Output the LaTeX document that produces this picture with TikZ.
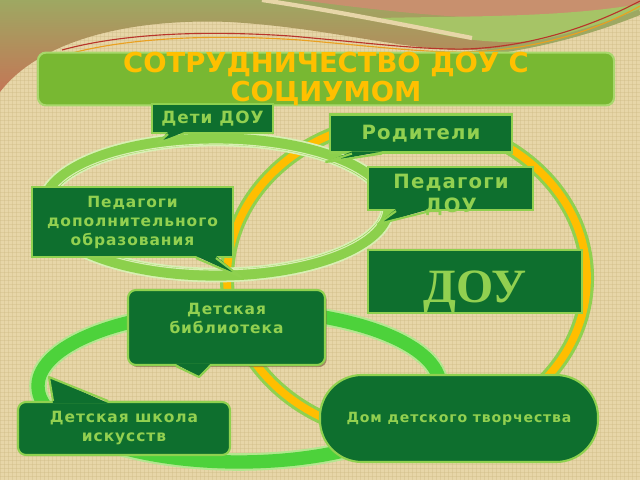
\documentclass[tikz,border=0pt]{standalone}
\usepackage{fontspec}
\setmainfont{DejaVu Sans}
\newfontfamily\boxfont[LetterSpace=6]{DejaVu Sans}
\newfontfamily\doufont{Liberation Serif}
\usetikzlibrary{shadows}

\definecolor{bgBeige}{HTML}{E7D6A8}
\definecolor{bgFibre}{HTML}{CDB882}
\definecolor{topOlive}{HTML}{9EA862}
\definecolor{topRed}{HTML}{C47656}
\definecolor{topRose}{HTML}{C8906E}
\definecolor{topGreen}{HTML}{A6C466}
\definecolor{lineRed}{HTML}{B8342A}
\definecolor{lineOrange}{HTML}{EAA020}
\definecolor{boxGreen}{HTML}{0E6F2E}
\definecolor{boxBorder}{HTML}{8FD14F}
\definecolor{boxText}{HTML}{92D050}
\definecolor{titleGreen}{HTML}{78B832}
\definecolor{titleBorder}{HTML}{A8D86C}
\definecolor{titleYellow}{HTML}{FFC000}
\definecolor{ringOrange}{HTML}{FFBE00}
\definecolor{ringGreen}{HTML}{8FD14F}
\definecolor{ovalGreen}{HTML}{8CD04C}
\definecolor{ovalPale}{HTML}{D9EFB4}
\definecolor{loopGreen}{HTML}{4DD23B}
\definecolor{loopPale}{HTML}{B4E690}
\definecolor{shadowBrown}{HTML}{7A5A3A}

\begin{document}
\begin{tikzpicture}[x=0.025cm, y=-0.025cm,
    box/.style={draw=boxBorder, line width=1.5pt, fill=boxGreen, text=boxText, align=center,
        inner sep=0pt, font=\boxfont\bfseries\fontsize{11}{13.5}\selectfont},
    bigtext/.style={font=\boxfont\bfseries\fontsize{14}{17}\selectfont},
    tailfill/.style={fill=boxGreen},
    tailline/.style={draw=boxBorder, line width=1.5pt, line join=round},
    fibre/.style={draw=bgFibre, line width=0.3pt, opacity=0.35}]

    \useasboundingbox (0,0) rectangle (640,480);
    \fill[bgBeige] (0,0) rectangle (640,480);
    \foreach \i in {0,4,...,640}
        \draw[fibre] (\i,0) -- (\i,480);
    \foreach \j in {0,4,...,480}
        \draw[fibre] (0,\j) -- (640,\j);

    \shade[top color=topOlive, bottom color=topRed] (0,0) -- (640,0) -- (640,6)
        .. controls (590,30) and (520,50) .. (467,50)
        .. controls (400,50) and (330,28) .. (230,22)
        .. controls (130,18) and (40,40) .. (0,92) -- cycle;
    \fill[topRose] (300,0) -- (640,0) -- (640,3) .. controls (600,16) and (540,20) .. (480,18)
        .. controls (420,15) and (360,8) .. (300,0) -- cycle;
    \fill[topGreen] (380,18) .. controls (460,16) and (560,18) .. (640,4) -- (640,10)
        .. controls (600,28) and (560,42) .. (510,42) .. controls (460,42) and (420,30) .. cycle;
    \draw[bgBeige, line width=3pt] (262,0) .. controls (330,10) and (400,24) .. (472,38);
    \draw[topOlive, line width=4pt] (470,54) .. controls (550,46) and (610,24) .. (640,12);
    \draw[lineRed, line width=0.8pt] (62,50) .. controls (120,34) and (200,30) .. (290,36)
        .. controls (360,42) and (420,50) .. (467,49) .. controls (540,46) and (600,22) .. (640,1);
    \draw[lineOrange, line width=0.8pt] (72,53) .. controls (130,38) and (210,34) .. (300,40)
        .. controls (370,46) and (425,53) .. (470,52) .. controls (545,49) and (605,26) .. (640,6);

    \draw[ringGreen, line width=10pt] (407,278) ellipse [x radius=180, y radius=158];
    \draw[ringOrange, line width=5.5pt] (407,278) ellipse [x radius=180, y radius=158];

    \draw[ovalPale, line width=10.5pt] (216,207) ellipse [x radius=172, y radius=68];
    \draw[ovalGreen, line width=8pt] (216,207) ellipse [x radius=172, y radius=68];
    \draw[ovalPale, line width=0.8pt] (216,207) ellipse [x radius=167, y radius=63];

    \draw[loopPale, line width=12.5pt] (239,386) ellipse [x radius=201, y radius=76];
    \draw[loopGreen, line width=9.5pt] (239,386) ellipse [x radius=201, y radius=76];

    \node[box, minimum width=14.4cm, minimum height=1.275cm, rounded corners=0.2cm, fill=titleGreen,
        draw=titleBorder, text=titleYellow, font=\bfseries\fontsize{19.5}{20}\selectfont]
        (title) at (326,79) {СОТРУДНИЧЕСТВО ДОУ С\\СОЦИУМОМ};

    \node[box, minimum width=3.025cm, minimum height=0.725cm, font=\boxfont\bfseries\fontsize{12}{14}\selectfont]
        (deti) at (212.5,118.5) {Дети ДОУ};
    \node[box, bigtext, minimum width=4.55cm, minimum height=0.95cm] (roditeli) at (421,133.5) {Родители};
    \node[box, minimum width=4.125cm, minimum height=1.075cm] (pedDou) at (450.5,188.5) {};
    \node[box, minimum width=5.025cm, minimum height=1.75cm] (pedDop) at (132.5,222)
        {Педагоги\\дополнительного\\образования};
    \node[box, minimum width=5.35cm, minimum height=1.575cm, text height=30pt, text depth=0pt,
        font=\doufont\bfseries\fontsize{34}{34}\selectfont] (dou) at (475,281.5) {ДОУ};
    \node[box, rounded corners=0.2cm, minimum width=4.925cm, minimum height=1.875cm,
        drop shadow={shadow xshift=1.2pt, shadow yshift=-1.5pt, fill=shadowBrown, opacity=0.6}]
        (lib) at (226.5,327.5) {Детская\\библиотека\\\mbox{}};
    \node[box, rounded corners=0.2cm, minimum width=5.3cm, minimum height=1.325cm] (shkola) at (124,428.5)
        {Детская школа\\искусств};
    \node[box, rounded corners=1.05cm, minimum width=6.95cm, minimum height=2.175cm,
        font=\boxfont\bfseries\fontsize{10}{12}\selectfont] (dom) at (459,418.5) {Дом детского творчества};

    \coordinate (detiTip) at (158,143);
    \coordinate (roditeliTip) at (326,162);
    \coordinate (pedDouTip) at (378,224);
    \coordinate (pedDopTip) at (241,277);
    \coordinate (libTip) at (199,377);
    \coordinate (shkolaTip) at (49,377);

    \fill[tailfill] ([yshift=1.5pt]deti.south -| 168,0) -- (detiTip) -- ([yshift=1.5pt]deti.south -| 184,0) -- cycle;
    \draw[tailline] (deti.south -| 168,0) -- (detiTip) -- (deti.south -| 184,0);
    \fill[tailfill] ([yshift=1.5pt]roditeli.south -| 352,0) -- (roditeliTip) -- ([yshift=1.5pt]roditeli.south -| 382,0) -- cycle;
    \draw[tailline] (roditeli.south -| 352,0) -- (roditeliTip) -- (roditeli.south -| 382,0);
    \fill[tailfill] ([yshift=1.5pt]pedDou.south -| 396,0) -- (pedDouTip) -- ([yshift=1.5pt]pedDou.south -| 430,0) -- cycle;
    \draw[tailline] (pedDou.south -| 396,0) -- (pedDouTip) -- (pedDou.south -| 430,0);
    \fill[tailfill] ([yshift=1.5pt]pedDop.south -| 196,0) -- (pedDopTip) -- ([yshift=1.5pt]pedDop.south -| 216,0) -- cycle;
    \draw[tailline] (pedDop.south -| 196,0) -- (pedDopTip) -- (pedDop.south -| 216,0);
    \fill[tailfill] ([yshift=1.5pt]lib.south -| 176,0) -- (libTip) -- ([yshift=1.5pt]lib.south -| 210,0) -- cycle;
    \draw[tailline] (lib.south -| 176,0) -- (libTip) -- (lib.south -| 210,0);
    \fill[tailfill] ([yshift=-1.5pt]shkola.north -| 53,0) -- (shkolaTip) -- ([yshift=-1.5pt]shkola.north -| 108,0) -- cycle;
    \draw[tailline] (shkola.north -| 53,0) -- (shkolaTip) -- (shkola.north -| 108,0);

    \node[bigtext, text=boxText, align=center, inner sep=0pt] (pedDouText) at (451,195) {Педагоги\\ДОУ};
\end{tikzpicture}
\end{document}
